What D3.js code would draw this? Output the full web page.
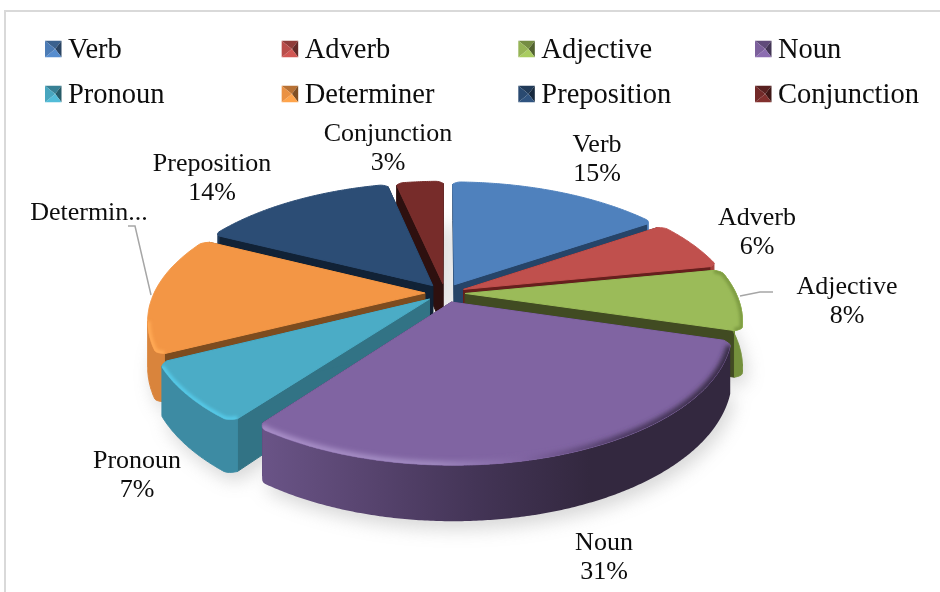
<!DOCTYPE html>
<html><head><meta charset="utf-8">
<script src="https://cdnjs.cloudflare.com/ajax/libs/d3/7.8.5/d3.min.js"></script>
<style>html,body{margin:0;padding:0;background:#fff}svg{display:block}text{font-family:"Liberation Serif",serif;fill:#0d0d0d}</style>
</head><body><svg id="c" width="940" height="592"></svg>
<script>
const categories=["Verb","Adverb","Adjective","Noun","Pronoun","Determiner","Preposition","Conjunction"];
const shares=[15.49,6.4,7.7,30.6,7.4,14.8,14.2,3.41];
const topColors=["#4f81bd","#c0504d","#9bbb59","#8064a2","#4bacc6","#f39645","#2c4d75","#772c2a"];
const edgeColors=["#264468","#661f1d","#414b22","#3f2f58","#327385","#7d4c1f","#112236","#2e100f"];
const wallColors=["#4f81bd","#a53f3c","#74903c","#5f4a78","#3d8ba3","#d9843c","#1f3a5a","#4a1a18"];
const rimColors=["#4f81bd","#c0504d","#7e9c42","#a98fc8","#55c8e6","#ffa955","#2c4d75","#772c2a"];
const labelText=["Verb","Adverb","Adjective","Noun","Pronoun","Determin...","Preposition","Conjunction"];
const labelPct=["15%","6%","8%","31%","7%","","14%","3%"];
const labelX=[597,757,847,604,137,89,212,388];
const labelY=[152,225,294,550,468,220,171,141];

const W=940,H=592,cx=445,cy=293,R=268,tilt=.4716,persp=.2,perspX=.2,stretchX=1.01,depth=44,explode=20;
const svg=d3.select("#c");
const defs=svg.append("defs");
const blur=(id,s)=>defs.append("filter").attr("id",id).attr("x","-20%").attr("y","-20%").attr("width","140%").attr("height","140%").append("feGaussianBlur").attr("stdDeviation",s);
blur("sh",9);blur("rimb",1.6);blur("rimn",2.4);

svg.append("path").attr("d",d3.line()([[W,11],[5,11],[5,H]])).attr("fill","none").attr("stroke","#d9d9d9").attr("stroke-width",2);

const g0=defs.append("linearGradient").attr("id","nounWall").attr("x1",0).attr("x2",1).attr("y1",0).attr("y2",0);
[[0,"#6a5487"],[.2,"#5a4672"],[.45,"#443557"],[.7,"#33283f"],[1,"#33283f"]].forEach(s=>g0.append("stop").attr("offset",s[0]).attr("stop-color",s[1]));
const g1=defs.append("linearGradient").attr("id","nounRim").attr("gradientUnits","userSpaceOnUse").attr("x1",264).attr("x2",737).attr("y1",0).attr("y2",0);
[[0,"#a98fc8"],[.35,"#a08ac0"],[.55,"#8064a2"],[.75,"#4d3a63"],[1,"#33283f"]].forEach(s=>g1.append("stop").attr("offset",s[0]).attr("stop-color",s[1]));

const pie=d3.pie().sort(null).startAngle(0).endAngle(2*Math.PI);
const line=d3.line().curve(d3.curveLinear);
function project(px,pz,down){
  const f=1/(1-persp*pz/R),fx=stretchX/(1-perspX*pz/R);
  return [cx+px*fx,cy+(tilt*pz+(down?depth:0))*f];
}
const slices=pie(shares).map((a,i)=>{
  const mid=(a.startAngle+a.endAngle)/2,ox=explode*Math.sin(mid),oz=-explode*Math.cos(mid);
  const n=Math.max(16,Math.round((a.endAngle-a.startAngle)*120));
  const ang=d3.range(n+1).map(k=>a.startAngle+(a.endAngle-a.startAngle)*k/n);
  const rr=t=>{const d=Math.min(t-a.startAngle,a.endAngle-t)/.035,c=Math.max(0,1-d);return R*(1-.025*c*c);};
  const rimT=ang.map(t=>project(ox+rr(t)*Math.sin(t),oz-rr(t)*Math.cos(t),false));
  const rimB=ang.map(t=>project(ox+rr(t)*Math.sin(t),oz-rr(t)*Math.cos(t),true));
  return {i,mid,depthKey:-Math.cos(mid),apexT:project(ox,oz,false),apexB:project(ox,oz,true),rimT,rimB};
});
const sh=svg.append("g").attr("filter","url(#sh)").attr("opacity",.34);
slices.forEach(s=>{
  sh.append("path").attr("d",line([s.apexB,...s.rimB])+"Z").attr("transform","translate(4,8)").attr("fill","#8a8a8a");
});
const order=slices.slice().sort((a,b)=>a.depthKey-b.depthKey);
order.forEach(s=>{
  const g=svg.append("g").attr("stroke-linejoin","round");
  const e=edgeColors[s.i],last=s.rimT.length-1;
  g.append("path").attr("d",line([s.apexT,s.rimT[0],s.rimB[0],s.apexB])+"Z").attr("fill",e).attr("stroke",e);
  g.append("path").attr("d",line([s.apexT,s.rimT[last],s.rimB[last],s.apexB])+"Z").attr("fill",e).attr("stroke",e);
  const front=d3.range(last).filter(k=>s.rimT[k+1][0]<s.rimT[k][0]+(s.i===2?4:0));
  let ks=[];
  if(front.length){
    ks=[front[0],...front.map(k=>k+1)];
    const top=ks.map(k=>s.rimT[k]),bot=ks.map(k=>s.rimB[k]).reverse();
    g.append("path").attr("d",line([...top,...bot])+"Z")
      .attr("fill",s.i===3?"url(#nounWall)":wallColors[s.i]).attr("stroke",s.i===3?"none":wallColors[s.i]);
  }
  const topD=line([s.apexT,...s.rimT])+"Z";
  g.append("path").attr("d",topD).attr("fill",topColors[s.i]).attr("stroke",topColors[s.i]).attr("stroke-width",1);
  const clipId="cl"+s.i;
  defs.append("clipPath").attr("id",clipId).append("path").attr("d",topD);
  if(ks.length){
    g.append("g").attr("clip-path",`url(#${clipId})`).append("path")
      .attr("d",line(ks.map(k=>s.rimT[k]))).attr("fill","none")
      .attr("stroke",s.i===3?"url(#nounRim)":rimColors[s.i]).attr("stroke-width",s.i===3?8:6).attr("filter",s.i===3?"url(#rimn)":"url(#rimb)");
  }
});

const leaders=[[[128,226],[135,226],[151,295]],[[740,296],[760,292],[773,292]]];
leaders.forEach(l=>svg.append("path").attr("d",line(l)).attr("fill","none").attr("stroke","#a6a6a6").attr("stroke-width",1.5));

categories.forEach((c,i)=>{
  svg.append("text").attr("x",labelX[i]).attr("y",labelY[i]).attr("text-anchor","middle").style("font-size","26px").text(labelText[i]);
  if(labelPct[i]) svg.append("text").attr("x",labelX[i]).attr("y",labelY[i]+29).attr("text-anchor","middle").style("font-size","26px").text(labelPct[i]);
});

const colX=d3.scaleLinear().domain([0,3]).range([45,755]);
const rowY=d3.scaleLinear().domain([0,1]).range([49,94]);
const sw=16.5;
categories.forEach((c,i)=>{
  const x=colX(i%4),y=rowY(Math.floor(i/4)),col=d3.color(topColors[i]);
  const a=[x,y-sw/2],b=[x+sw,y-sw/2],d=[x+sw,y+sw/2],e=[x,y+sw/2],m=[x+sw/2+2,y];
  [[a,b,m,col.darker(.8)],[b,d,m,col.darker(1.8)],[d,e,m,col.brighter(.25)],[e,a,m,col.darker(.1)]].forEach(p=>{
    svg.append("path").attr("d",line(p.slice(0,3))+"Z").attr("fill",p[3]);
  });
  svg.append("text").attr("x",x+23).attr("y",y+9).style("font-size","28.5px").text(c);
});
</script></body></html>
